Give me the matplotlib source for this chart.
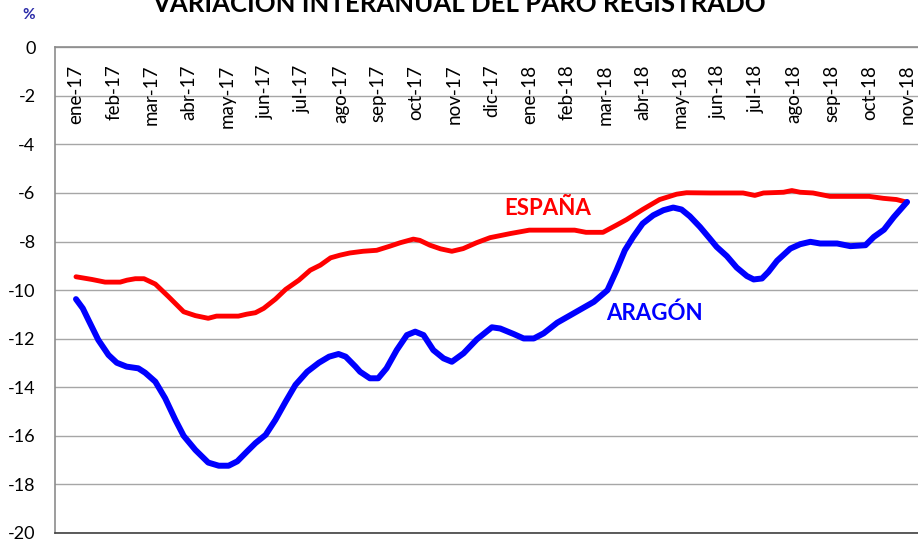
import matplotlib
matplotlib.use("Agg")
import matplotlib.pyplot as plt

# etiquetas de mes (eje de categorias)
meses = ["ene-17", "feb-17", "mar-17", "abr-17", "may-17", "jun-17", "jul-17",
         "ago-17", "sep-17", "oct-17", "nov-17", "dic-17", "ene-18", "feb-18",
         "mar-18", "abr-18", "may-18", "jun-18", "jul-18", "ago-18", "sep-18",
         "oct-18", "nov-18"]

# posicion en meses (0 = ene-17) y variacion interanual (%)
esp_x = [0, 0.42, 0.77, 1.17, 1.35, 1.57, 1.8, 2.1, 2.45, 2.85, 3.16, 3.5, 3.72,
         3.96, 4.3, 4.52, 4.75, 4.97, 5.28, 5.55, 5.9, 6.2, 6.47, 6.74, 6.99,
         7.25, 7.6, 7.96, 8.31, 8.58, 8.93, 9.1, 9.37, 9.65, 9.95, 10.25, 10.6,
         10.96, 11.5, 12.0, 12.46, 12.9, 13.2, 13.5, 13.95, 14.3, 14.57, 15.0,
         15.45, 15.9, 16.16, 16.8, 17.66, 17.97, 18.2, 18.73, 18.95, 19.17,
         19.51, 19.96, 20.5, 21.0, 21.37, 21.72, 22.0]
esp_y = [-9.45, -9.56, -9.67, -9.67, -9.59, -9.53, -9.53, -9.75, -10.27, -10.89,
         -11.05, -11.16, -11.07, -11.07, -11.07, -10.99, -10.93, -10.75, -10.37,
         -9.97, -9.59, -9.18, -8.97, -8.67, -8.56, -8.47, -8.40, -8.36, -8.19,
         -8.05, -7.90, -7.95, -8.15, -8.30, -8.40, -8.29, -8.05, -7.84, -7.67,
         -7.53, -7.53, -7.53, -7.53, -7.62, -7.62, -7.33, -7.10, -6.68, -6.27,
         -6.05, -5.99, -6.0, -6.0, -6.1, -6.0, -5.97, -5.9, -5.97, -6.0, -6.14,
         -6.14, -6.14, -6.22, -6.27, -6.38]

ara_x = [0, 0.18, 0.33, 0.59, 0.86, 1.08, 1.34, 1.65, 1.83, 2.1, 2.36, 2.63,
         2.85, 3.16, 3.5, 3.78, 4.04, 4.27, 4.53, 4.75, 5.02, 5.28, 5.55, 5.81,
         6.12, 6.43, 6.7, 6.95, 7.14, 7.4, 7.52, 7.78, 8.0, 8.22, 8.49, 8.76,
         8.98, 9.2, 9.46, 9.73, 9.95, 10.26, 10.61, 11.01, 11.23, 11.59, 11.85,
         12.12, 12.38, 12.74, 13.09, 13.45, 13.71, 14.07, 14.31, 14.53, 14.75,
         15.0, 15.28, 15.55, 15.81, 16.03, 16.25, 16.52, 16.78, 16.96, 17.23,
         17.49, 17.76, 17.94, 18.16, 18.33, 18.56, 18.91, 19.17, 19.44, 19.7,
         20.15, 20.5, 20.9, 21.12, 21.39, 21.65, 22.0]
ara_y = [-10.37, -10.75, -11.23, -12.05, -12.67, -12.99, -13.15, -13.22, -13.40,
         -13.77, -14.45, -15.34, -16.0, -16.58, -17.10, -17.23, -17.23, -17.05,
         -16.64, -16.30, -15.96, -15.34, -14.59, -13.9, -13.36, -12.99, -12.74,
         -12.63, -12.74, -13.15, -13.36, -13.63, -13.63, -13.22, -12.47, -11.85,
         -11.71, -11.85, -12.47, -12.81, -12.95, -12.6, -12.03, -11.53, -11.58,
         -11.81, -11.99, -11.99, -11.78, -11.34, -11.03, -10.71, -10.48, -10.0,
         -9.18, -8.36, -7.81, -7.26, -6.92, -6.71, -6.60, -6.68, -6.96, -7.40,
         -7.88, -8.22, -8.60, -9.07, -9.42, -9.56, -9.52, -9.25, -8.79, -8.29,
         -8.11, -8.01, -8.08, -8.08, -8.19, -8.15, -7.81, -7.51, -6.99, -6.37]

plt.rcParams["font.family"] = ["Lato", "DejaVu Sans"]

fig = plt.figure(figsize=(9.18, 5.47), dpi=100)
ax = fig.add_axes([0.0599, 0.0256, 0.9401, 0.888])

ax.plot(esp_x, esp_y, color="#ff0000", lw=3.5, solid_capstyle="round", zorder=3)
ax.plot(ara_x, ara_y, color="#0000ff", lw=4.3, solid_capstyle="round", zorder=4)

ax.set_ylim(-20, 0)
ax.set_xlim(-0.556, 22.29)
ax.set_yticks(range(-20, 1, 2))
ax.set_yticklabels([str(v) for v in range(-20, 1, 2)], fontsize=13)
ax.tick_params(axis="y", length=0, pad=14)
ax.set_xticks([])
ax.grid(axis="y", color="#a6a6a6", lw=1)
ax.set_axisbelow(True)

ax.spines["right"].set_visible(False)
ax.spines["top"].set_color("#8c8c8c")
ax.spines["left"].set_color("#8c8c8c")
ax.spines["bottom"].set_color("#404040")
for s in ["top", "left", "bottom"]:
    ax.spines[s].set_linewidth(1.2)

for i, m in enumerate(meses):
    ax.text(i, -0.72, m, rotation=90, ha="center", va="top", fontsize=13.5,
            color="black")

ax.text(12.49, -6.64, "ESPAÑA", color="#ff0000", fontsize=16,
        fontweight="bold", ha="center", va="center")
ax.text(15.3, -10.97, "ARAGÓN", color="#0000ff", fontsize=16,
        fontweight="bold", ha="center", va="center")

fig.text(0.5, 0.978, "VARIACIÓN INTERANUAL DEL PARO REGISTRADO",
         ha="center", va="baseline", fontsize=18.5, fontweight="bold")
fig.text(29 / 918, 1 - 15 / 547, "%", ha="center", va="center",
         fontsize=11, fontweight="bold", color="#2b2ba8")

fig.savefig("out.png", dpi=100)
